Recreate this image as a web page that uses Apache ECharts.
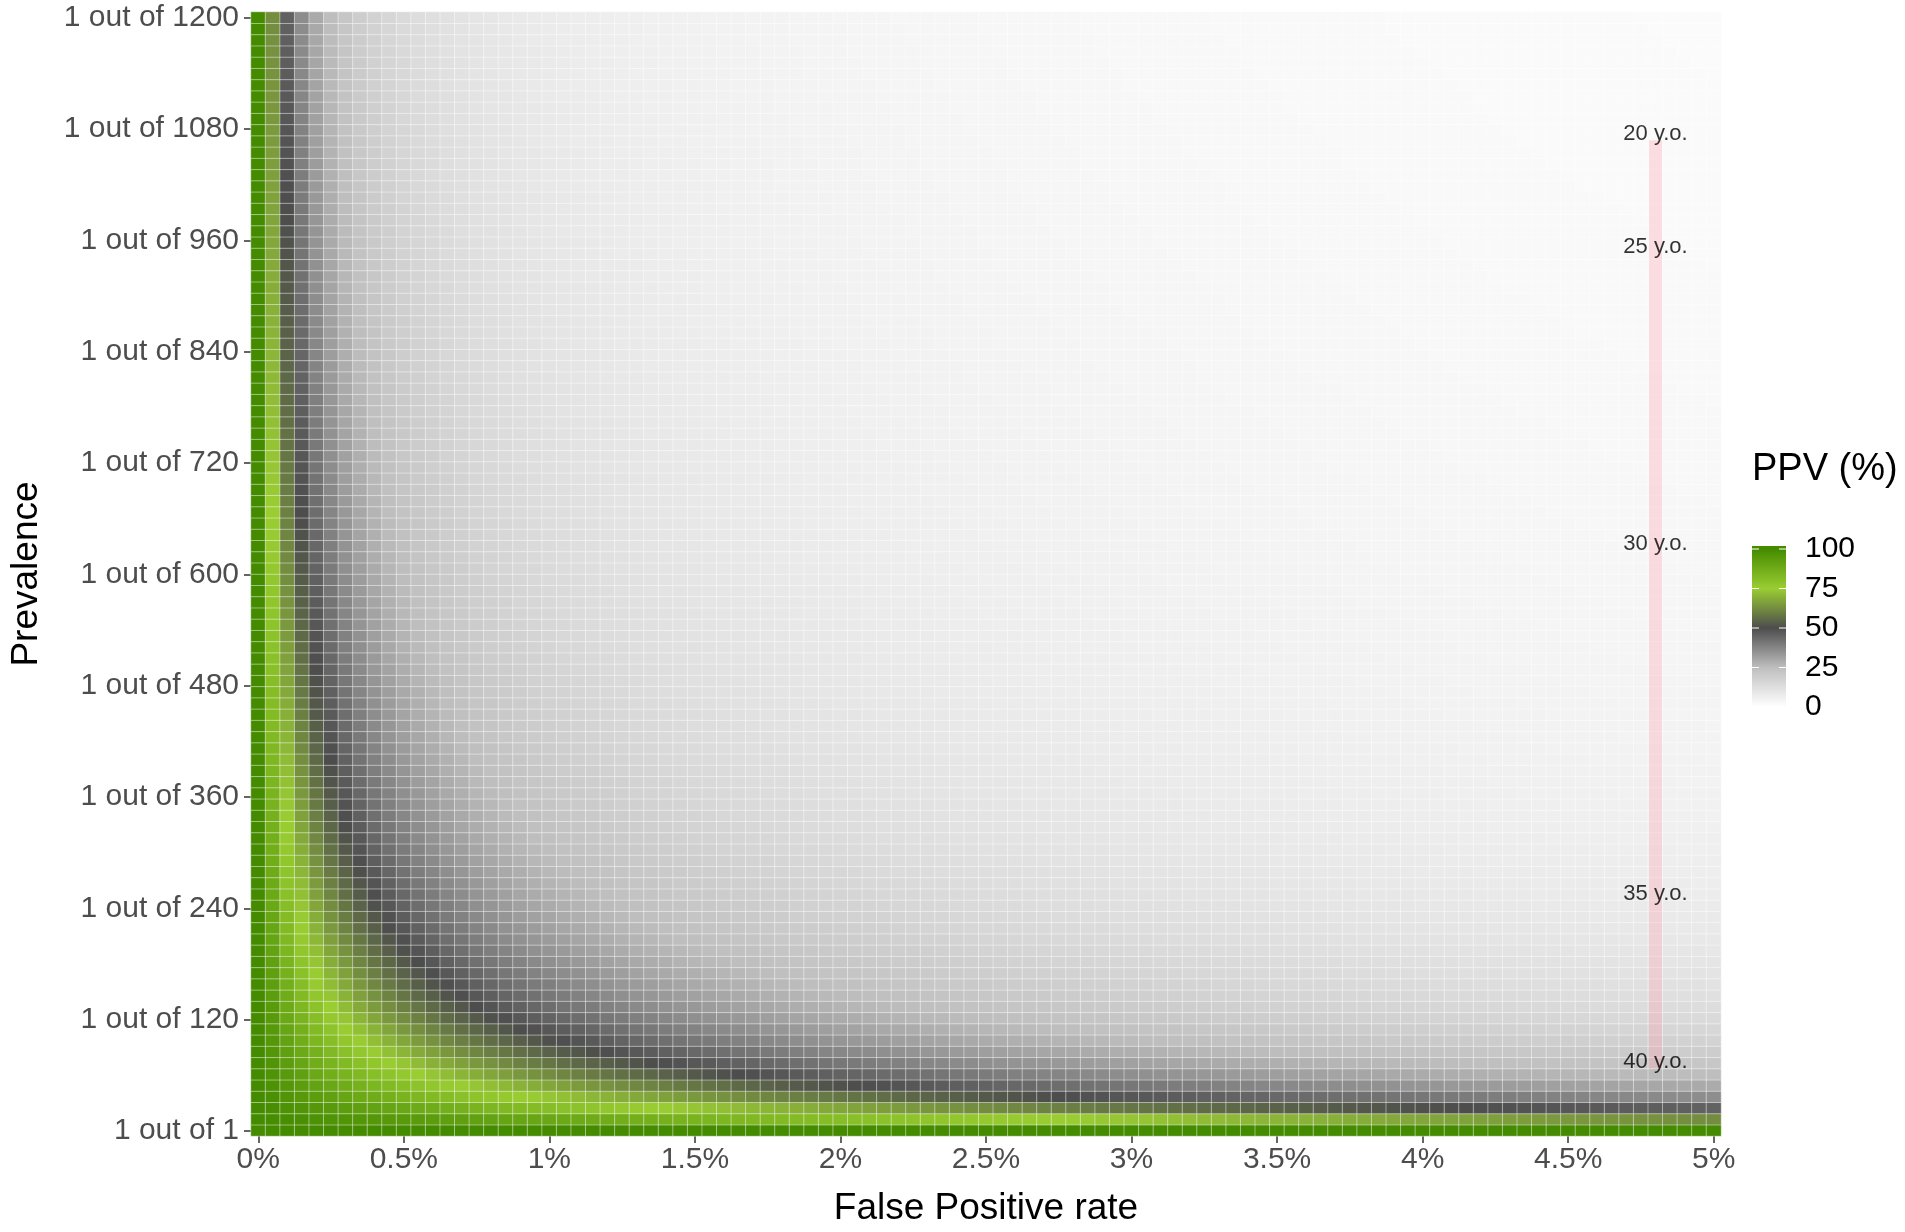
<!DOCTYPE html>
<html>
<head>
<meta charset="utf-8">
<title>PPV heatmap</title>
<script src="https://cdn.jsdelivr.net/npm/echarts@6.0.0/dist/echarts.min.js"></script>
<style>
  html, body { margin: 0; padding: 0; background: #ffffff; }
  #ppv-chart { width: 1905px; height: 1232px; }
</style>
</head>
<body>
<div id="ppv-chart"></div>
<script>
// false positive rate (%) of each column
const fprValues = [
    0, 0.05, 0.1, 0.15, 0.2, 0.25, 0.3, 0.35, 0.4, 0.45,
    0.5, 0.55, 0.6, 0.65, 0.7, 0.75, 0.8, 0.85, 0.9, 0.95,
    1, 1.05, 1.1, 1.15, 1.2, 1.25, 1.3, 1.35, 1.4, 1.45,
    1.5, 1.55, 1.6, 1.65, 1.7, 1.75, 1.8, 1.85, 1.9, 1.95,
    2, 2.05, 2.1, 2.15, 2.2, 2.25, 2.3, 2.35, 2.4, 2.45,
    2.5, 2.55, 2.6, 2.65, 2.7, 2.75, 2.8, 2.85, 2.9, 2.95,
    3, 3.05, 3.1, 3.15, 3.2, 3.25, 3.3, 3.35, 3.4, 3.45,
    3.5, 3.55, 3.6, 3.65, 3.7, 3.75, 3.8, 3.85, 3.9, 3.95,
    4, 4.05, 4.1, 4.15, 4.2, 4.25, 4.3, 4.35, 4.4, 4.45,
    4.5, 4.55, 4.6, 4.65, 4.7, 4.75, 4.8, 4.85, 4.9, 4.95,
    5
];
// prevalence of each row, as "1 out of N"
const prevalenceN = [
    1, 13.1, 25.2, 37.3, 49.4, 61.6, 73.7, 85.8, 97.9, 110.0,
    122.1, 134.2, 146.3, 158.4, 170.6, 182.7, 194.8, 206.9, 219.0, 231.1,
    243.2, 255.3, 267.4, 279.6, 291.7, 303.8, 315.9, 328.0, 340.1, 352.2,
    364.3, 376.4, 388.6, 400.7, 412.8, 424.9, 437.0, 449.1, 461.2, 473.3,
    485.4, 497.6, 509.7, 521.8, 533.9, 546.0, 558.1, 570.2, 582.3, 594.4,
    606.6, 618.7, 630.8, 642.9, 655.0, 667.1, 679.2, 691.3, 703.4, 715.6,
    727.7, 739.8, 751.9, 764.0, 776.1, 788.2, 800.3, 812.4, 824.6, 836.7,
    848.8, 860.9, 873.0, 885.1, 897.2, 909.3, 921.4, 933.6, 945.7, 957.8,
    969.9, 982.0, 994.1, 1006.2, 1018.3, 1030.4, 1042.6, 1054.7, 1066.8, 1078.9,
    1091.0, 1103.1, 1115.2, 1127.3, 1139.4, 1151.6, 1163.7, 1175.8, 1187.9, 1200
];
const sensitivity = 1;

const xTicks = [0, 0.5, 1, 1.5, 2, 2.5, 3, 3.5, 4, 4.5, 5];
const yTicks = [1, 120, 240, 360, 480, 600, 720, 840, 960, 1080, 1200];
const legendTicks = [100, 75, 50, 25, 0];

// maternal age markers (risk 1 out of N) drawn at one FPR
const ageLabels = ['20 y.o.', '25 y.o.', '30 y.o.', '35 y.o.', '40 y.o.'];
const ageRiskN = [1068, 946, 626, 249, 68];
const markerFpr = 4.8;

const ppvColors = ['#ffffff', '#bebebe', '#4d4d4d', '#9acd32', '#458b00'];

function initPpvChart() {
    const el = document.getElementById('ppv-chart');
    const chart = echarts.init(el, null, { renderer: 'canvas' });
    const font = '"Liberation Sans", Arial, Helvetica, sans-serif';

    // PPV (%) of each cell from its prevalence and false positive rate
    const cells = [];
    prevalenceN.forEach(function (n, yi) {
        const prev = 1 / n;
        fprValues.forEach(function (f, xi) {
            const fp = (f / 100) * (1 - prev);
            const tp = sensitivity * prev;
            cells.push([xi, yi, tp / (tp + fp) * 100]);
        });
    });

    const ageData = ageLabels.map(function (name, i) {
        return { name: name, value: [markerFpr, ageRiskN[i]] };
    });

    // legend colour bar (ggplot style)
    const barTop = 546, barH = 163, barX = 1752, barW = 34;
    const tickY = function (v) { return 707 - v * 1.58; };
    const stops = ppvColors.map(function (c, i) {
        const v = i * 25;
        return { offset: (tickY(v) - barTop) / barH, color: c };
    }).reverse();
    const legendGraphics = [
        {
            type: 'text', left: 1752, top: 451,
            style: { text: 'PPV (%)', font: '38px ' + font, fill: '#000000' }
        },
        {
            type: 'rect', shape: { x: barX, y: barTop, width: barW, height: barH },
            style: { fill: new echarts.graphic.LinearGradient(0, 0, 0, 1, stops) }
        }
    ];
    legendTicks.forEach(function (v) {
        const y = tickY(v);
        if (v > 0) {
            legendGraphics.push({ type: 'line', shape: { x1: barX, y1: y, x2: barX + 7, y2: y }, style: { stroke: '#ffffff', lineWidth: 1 } });
            legendGraphics.push({ type: 'line', shape: { x1: barX + barW - 7, y1: y, x2: barX + barW, y2: y }, style: { stroke: '#ffffff', lineWidth: 1 } });
        }
        legendGraphics.push({
            type: 'text', x: 1805, y: y,
            style: { text: String(v), font: '30px ' + font, fill: '#000000', verticalAlign: 'middle' }
        });
    });

    const option = {
        backgroundColor: '#ffffff',
        animation: false,
        grid: { left: 251, right: 184, top: 12, bottom: 83 },
        xAxis: [
            { type: 'category', data: fprValues, show: false, position: 'top' },
            {
                type: 'value', min: -0.025, max: 5.025, position: 'bottom',
                name: 'False Positive rate', nameLocation: 'middle', nameGap: 54,
                nameTextStyle: { fontFamily: font, fontSize: 37, color: '#000000' },
                axisLine: { show: false },
                splitLine: { show: false },
                axisTick: { show: true, customValues: xTicks, length: 7, lineStyle: { color: '#333333', width: 1.5 } },
                axisLabel: {
                    customValues: xTicks, margin: 9, fontFamily: font, fontSize: 30, color: '#4d4d4d',
                    formatter: function (v) { return v + '%'; }
                }
            }
        ],
        yAxis: [
            { type: 'category', data: prevalenceN, show: false, position: 'right' },
            {
                type: 'value', min: -5.0556, max: 1206.0556, position: 'left',
                name: 'Prevalence', nameLocation: 'middle', nameGap: 206, nameRotate: 90,
                nameTextStyle: { fontFamily: font, fontSize: 37, color: '#000000' },
                axisLine: { show: false },
                splitLine: { show: false },
                axisTick: { show: true, customValues: yTicks, length: 7, lineStyle: { color: '#333333', width: 1.5 } },
                axisLabel: {
                    customValues: yTicks, margin: 12, fontFamily: font, fontSize: 30, color: '#4d4d4d',
                    formatter: function (v) { return '1 out of ' + v; }
                }
            }
        ],
        visualMap: {
            type: 'continuous', show: false, min: 0, max: 100, seriesIndex: 0,
            inRange: { color: ppvColors }
        },
        series: [
            {
                type: 'heatmap',
                xAxisIndex: 0, yAxisIndex: 0,
                data: cells,
                progressive: 0,
                itemStyle: { borderColor: 'rgba(255,255,255,0.55)', borderWidth: 0.8 },
                emphasis: { disabled: true }
            },
            {
                type: 'line',
                xAxisIndex: 1, yAxisIndex: 1,
                data: [[markerFpr, ageRiskN[ageRiskN.length - 1]], [markerFpr, ageRiskN[0]]],
                symbol: 'none',
                lineStyle: { color: 'rgba(255,160,175,0.33)', width: 13, cap: 'butt' },
                z: 3
            },
            {
                type: 'scatter',
                xAxisIndex: 1, yAxisIndex: 1,
                data: ageData,
                symbolSize: 1,
                itemStyle: { color: 'rgba(0,0,0,0)' },
                label: {
                    show: true, position: 'inside', offset: [0, -6],
                    formatter: '{b}', fontFamily: font, fontSize: 22, color: '#000000'
                },
                z: 4
            }
        ],
        graphic: legendGraphics
    };
    chart.setOption(option);
    window.addEventListener('resize', function () {
        chart.resize();
    });
    return chart;
}

initPpvChart();
</script>
</body>
</html>
